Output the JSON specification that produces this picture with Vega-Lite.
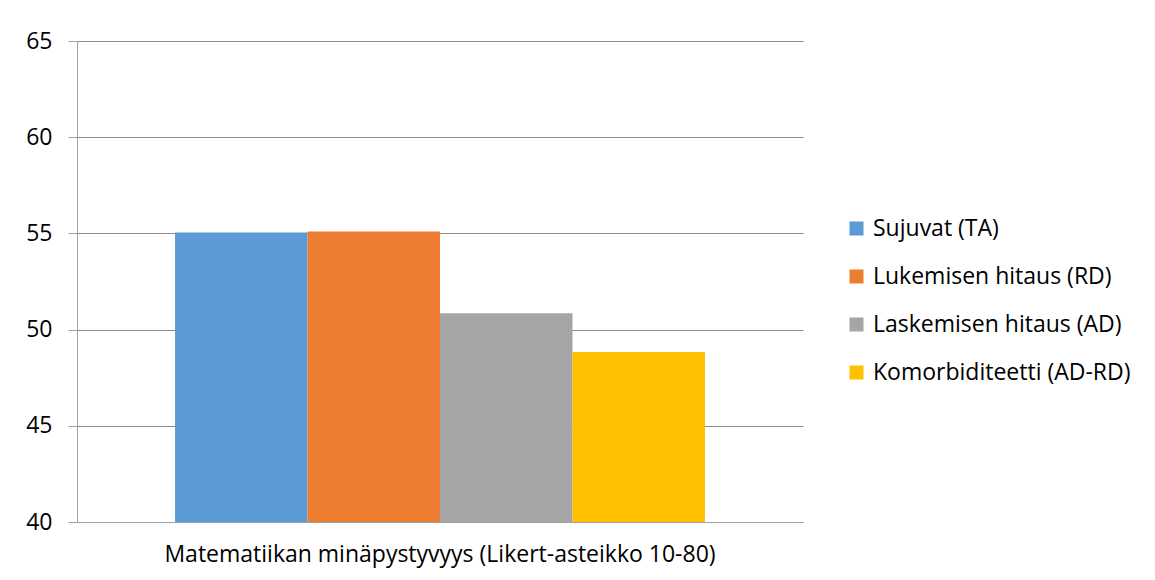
{
  "$schema": "https://vega.github.io/schema/vega-lite/v6.json",
  "width": 726,
  "height": 481,
  "autosize": {"type": "none"},
  "padding": {"left": 77, "top": 41, "right": 352, "bottom": 58},
  "background": "white",
  "config": {"view": {"stroke": null}, "font": "Open Sans"},
  "data": {
    "values": [
      {"measure": "Matematiikan minäpystyvyys (Likert-asteikko 10-80)", "group": "Sujuvat (TA)", "value": 55.05},
      {"measure": "Matematiikan minäpystyvyys (Likert-asteikko 10-80)", "group": "Lukemisen hitaus (RD)", "value": 55.1},
      {"measure": "Matematiikan minäpystyvyys (Likert-asteikko 10-80)", "group": "Laskemisen hitaus (AD)", "value": 50.85},
      {"measure": "Matematiikan minäpystyvyys (Likert-asteikko 10-80)", "group": "Komorbiditeetti (AD-RD)", "value": 48.83}
    ]
  },
  "mark": {"type": "bar", "clip": true},
  "encoding": {
    "x": {
      "field": "measure",
      "type": "nominal",
      "scale": {"paddingInner": 0, "paddingOuter": 0.185},
      "axis": {"title": null, "labelAngle": 0, "ticks": false, "domainColor": "#a0a0a0", "labelFontSize": 23, "labelColor": "#000000", "labelPadding": 21, "labelLimit": 0}
    },
    "xOffset": {
      "field": "group",
      "type": "nominal",
      "sort": ["Sujuvat (TA)", "Lukemisen hitaus (RD)", "Laskemisen hitaus (AD)", "Komorbiditeetti (AD-RD)"],
      "scale": {"paddingInner": 0, "paddingOuter": 0}
    },
    "y": {
      "field": "value",
      "type": "quantitative",
      "scale": {"domain": [40, 65], "nice": false, "zero": false},
      "axis": {"values": [40, 45, 50, 55, 60, 65], "title": null, "gridColor": "#8c8c8c", "domainColor": "#a0a0a0", "tickColor": "#a0a0a0", "tickSize": 9, "labelFontSize": 23, "labelPadding": 16, "labelColor": "#000000"}
    },
    "color": {
      "field": "group",
      "type": "nominal",
      "sort": ["Sujuvat (TA)", "Lukemisen hitaus (RD)", "Laskemisen hitaus (AD)", "Komorbiditeetti (AD-RD)"],
      "scale": {"range": ["#5B9BD5", "#ED7D31", "#A5A5A5", "#FFC000"]},
      "legend": {"orient": "none", "legendX": 768, "legendY": 176, "title": null, "symbolType": "square", "symbolSize": 196, "labelFontSize": 23, "labelLimit": 0, "rowPadding": 24, "symbolStrokeWidth": 0, "labelColor": "#000000", "labelOffset": 5}
    }
  }
}
